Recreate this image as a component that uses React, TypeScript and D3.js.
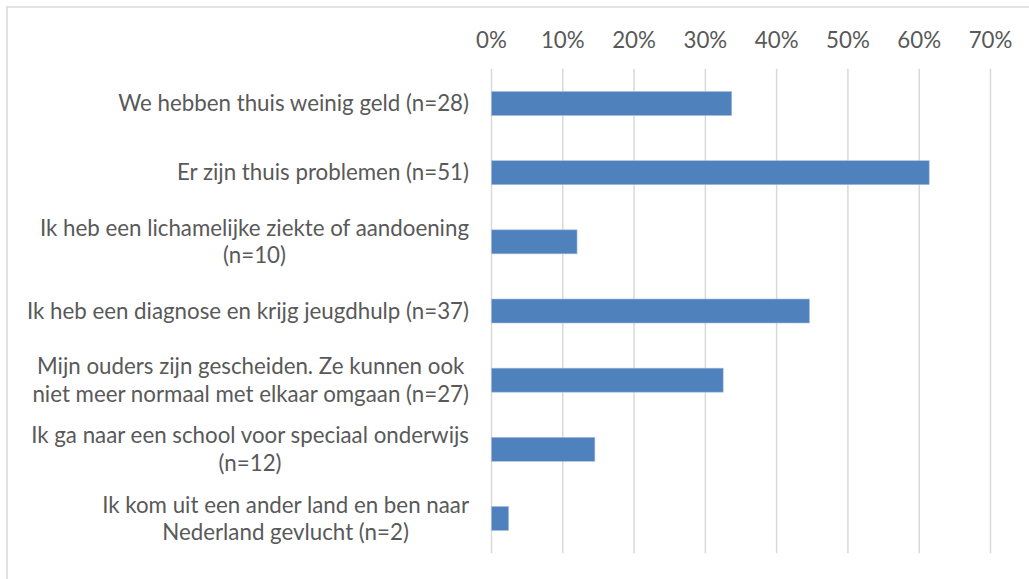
import React, { useEffect, useRef } from 'react';
import * as d3 from 'd3';

// labels, wrapped as in the original chart
const categories: string[][] = [
  ['We hebben thuis weinig geld (n=28)'],
  ['Er zijn thuis problemen (n=51)'],
  ['Ik heb een lichamelijke ziekte of aandoening', '(n=10)'],
  ['Ik heb een diagnose en krijg jeugdhulp (n=37)'],
  ['Mijn ouders zijn gescheiden. Ze kunnen ook', 'niet meer normaal met elkaar omgaan (n=27)'],
  ['Ik ga naar een school voor speciaal onderwijs', '(n=12)'],
  ['Ik kom uit een ander land en ben naar', 'Nederland gevlucht (n=2)'],
];
const values: number[] = [0.337, 0.614, 0.12, 0.446, 0.325, 0.145, 0.024];
const ticks: number[] = [0, 0.1, 0.2, 0.3, 0.4, 0.5, 0.6, 0.7];

const App = () => {
  const svgRef = useRef<SVGSVGElement>(null);

  useEffect(() => {
    const svg = d3.select(svgRef.current);
    const width = 1029;
    const height = 579;
    const margin = { top: 68.7, right: 38.5, bottom: 25.7, left: 491.5 };
    const innerWidth = width - margin.left - margin.right;
    const innerHeight = height - margin.top - margin.bottom;
    const font = 'Lato, "Open Sans", sans-serif';
    const fontSize = 22.3;
    const textColor = '#595959';

    // chart frame (right and bottom edges fall outside the picture)
    svg
      .append('rect')
      .attr('x', 7)
      .attr('y', 7)
      .attr('width', width + 10)
      .attr('height', height + 10)
      .attr('fill', 'white')
      .attr('stroke', '#d9d9d9')
      .attr('stroke-width', 1.5);

    const x = d3.scaleLinear().domain([0, 0.7]).range([0, innerWidth]);
    const y = d3
      .scaleBand()
      .domain(categories.map((_, i) => String(i)))
      .range([0, innerHeight])
      .paddingInner(0.653)
      .paddingOuter(0.33);

    const g = svg.append('g').attr('transform', `translate(${margin.left},${margin.top})`);

    // gridlines
    g.selectAll('line.grid')
      .data(ticks)
      .enter()
      .append('line')
      .attr('class', 'grid')
      .attr('x1', (d) => x(d))
      .attr('x2', (d) => x(d))
      .attr('y1', 0)
      .attr('y2', innerHeight)
      .attr('stroke', '#d9d9d9')
      .attr('stroke-width', 1.5);

    // top axis labels
    g.selectAll('text.tick')
      .data(ticks)
      .enter()
      .append('text')
      .attr('class', 'tick')
      .attr('x', (d) => x(d))
      .attr('y', 40 - margin.top)
      .attr('dy', '0.35em')
      .attr('text-anchor', 'middle')
      .attr('font-family', font)
      .attr('font-size', fontSize)
      .attr('fill', textColor)
      .text((d) => d3.format('.0%')(d));

    // bars
    g.selectAll('rect.bar')
      .data(values)
      .enter()
      .append('rect')
      .attr('class', 'bar')
      .attr('x', x(0))
      .attr('y', (_, i) => y(String(i))!)
      .attr('width', (d) => x(d))
      .attr('height', y.bandwidth())
      .attr('fill', '#4f81bd')
      .attr('stroke', '#a7bfdc')
      .attr('stroke-width', 0.6);

    // category labels: block right-aligned, wrapped lines centred on each other
    const lineHeight = 27.5;
    const right = -22.5;
    categories.forEach((lines, i) => {
      const cy = y(String(i))! + y.bandwidth() / 2;
      const t = g
        .append('text')
        .attr('font-family', font)
        .attr('font-size', fontSize)
        .attr('fill', textColor);
      const spans = lines.map((line, j) =>
        t
          .append('tspan')
          .attr('y', cy + (j - (lines.length - 1) / 2) * lineHeight)
          .attr('dy', '0.35em')
          .text(line)
      );
      if (lines.length === 1) {
        t.attr('text-anchor', 'end');
        spans[0].attr('x', right);
      } else {
        const widths = spans.map((s) => (s.node() as SVGTSpanElement).getComputedTextLength());
        const cx = right - d3.max(widths)! / 2;
        t.attr('text-anchor', 'middle');
        spans.forEach((s) => s.attr('x', cx));
      }
    });

    return () => {
      svg.selectAll('*').remove();
    };
  }, []);

  return (
    <svg
      ref={svgRef}
      width={1029}
      height={579}
      style={{ position: 'absolute', left: 0, top: 0, background: 'white' }}
    />
  );
};

export default App;
